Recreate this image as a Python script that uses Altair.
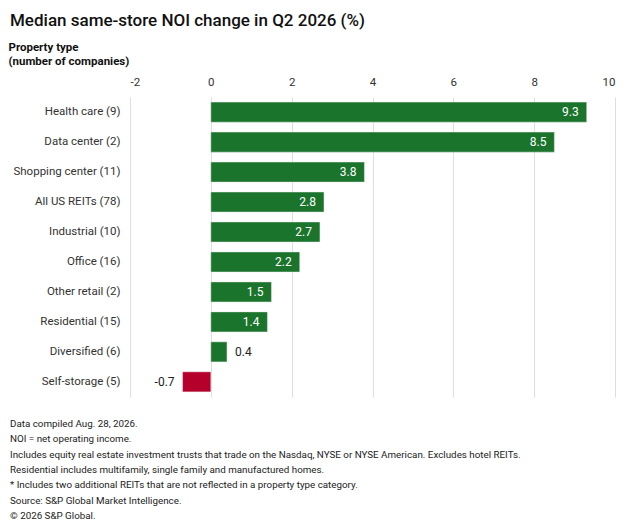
import altair as alt
import pandas as pd

categories = ["Health care (9)", "Data center (2)", "Shopping center (11)", "All US REITs (78)",
              "Industrial (10)", "Office (16)", "Other retail (2)", "Residential (15)",
              "Diversified (6)", "Self-storage (5)"]
values = [9.3, 8.5, 3.8, 2.8, 2.7, 2.2, 1.5, 1.4, 0.4, -0.7]
x_ticks = [-2, 0, 2, 4, 6, 8, 10]

title_text = "Median same-store NOI change in Q2 2026 (%)"
y_header = ["Property type", "(number of companies)"]
footnotes = [
    "Data compiled Aug. 28, 2026.",
    "NOI = net operating income.",
    "Includes equity real estate investment trusts that trade on the Nasdaq, NYSE or NYSE American. Excludes hotel REITs.",
    "Residential includes multifamily, single family and manufactured homes.",
    "* Includes two additional REITs that are not reflected in a property type category.",
    "Source: S&P Global Market Intelligence.",
    "\u00a9 2026 S&P Global.",
]

GREEN = "#1b742c"
RED = "#b4002a"
FONT = "Roboto"

df = pd.DataFrame({"cat": categories, "val": values})
df["label"] = [f"{v:.1f}" for v in values]
df["inside"] = df["val"] >= 1
df["color"] = [GREEN if v >= 0 else RED for v in values]

x_enc = alt.X("val:Q", scale=alt.Scale(domain=[-2, 10], nice=False),
              axis=alt.Axis(orient="top", values=x_ticks, title=None, ticks=False, domain=False,
                            labelExpr="'' + datum.value",
                            labelPadding=10, labelFontSize=11.5, labelColor="#333", labelFont=FONT,
                            gridColor="#dedede", gridWidth=1))
y_enc = alt.Y("cat:N", sort=categories, scale=alt.Scale(paddingInner=0.33, paddingOuter=0.17),
              axis=alt.Axis(title=y_header, titleAngle=0, titleX=-122, titleY=-56, titleAlign="left",
                            titleBaseline="top", titleFontSize=11.5, titleFontWeight="bold",
                            titleLineHeight=14, titleFont=FONT, titleColor="#111",
                            ticks=False, domain=False, labelPadding=10, labelFontSize=11.5,
                            labelColor="#333", labelFont=FONT, grid=False))

base = alt.Chart(df)

bars = base.mark_bar(stroke="#e8e8e8", strokeWidth=0.5).encode(
    x=x_enc, x2=alt.datum(0), y=y_enc,
    color=alt.Color("color:N", scale=None),
)

inside = base.transform_filter("datum.inside").mark_text(
    align="right", dx=-8, color="white", fontSize=12, font=FONT
).encode(x="val:Q", y=alt.Y("cat:N", sort=categories), text="label:N")

outside_pos = base.transform_filter("!datum.inside && datum.val >= 0").mark_text(
    align="left", dx=8, color="#222", fontSize=12, font=FONT
).encode(x="val:Q", y=alt.Y("cat:N", sort=categories), text="label:N")

outside_neg = base.transform_filter("datum.val < 0").mark_text(
    align="right", dx=-8, color="#222", fontSize=12, font=FONT
).encode(x="val:Q", y=alt.Y("cat:N", sort=categories), text="label:N")

notes = alt.Chart(pd.DataFrame({"t": [0]})).mark_text(
    align="left", baseline="top", fontSize=9.8, lineHeight=15.3, color="#222", font=FONT
).encode(x=alt.value(-120), y=alt.value(322), text=alt.value(footnotes))

chart = alt.layer(bars, inside, outside_pos, outside_neg, notes).properties(
    width=485, height=300,
    padding={"left": 122, "top": 89, "right": 17, "bottom": 125},
    autosize="none",
    title=alt.TitleParams(title_text, anchor="start", frame="bounds", fontSize=17,
                          fontWeight=500, font=FONT, color="#111", offset=11, dx=2),
).configure_view(stroke=None)

chart.save("out.html", embed_options={"renderer": "svg", "actions": False})
